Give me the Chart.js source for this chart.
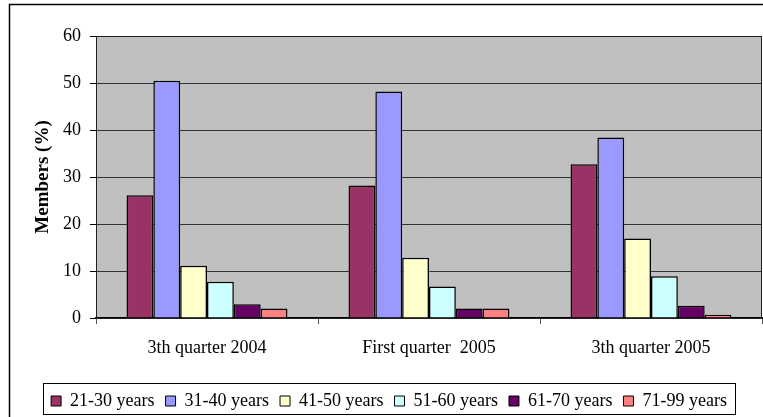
<!DOCTYPE html>
<html>
<head>
<meta charset="utf-8">
<script src="https://cdn.jsdelivr.net/npm/chart.js@4/dist/chart.umd.min.js"></script>
<style>
  html, body { margin: 0; padding: 0; background: #fff; }
  canvas { display: block; }
</style>
</head>
<body>
<canvas id="membersChart" width="763" height="417"></canvas>
<script>
// data
const quarters = ['3th quarter 2004', 'First quarter  2005', '3th quarter 2005'];
const ageGroups = ['21-30 years', '31-40 years', '41-50 years', '51-60 years', '61-70 years', '71-99 years'];
const age21to30 = [26.1, 28.2, 32.7];
const age31to40 = [50.5, 48.2, 38.4];
const age41to50 = [11.1, 12.8, 16.9];
const age51to60 = [7.7, 6.7, 8.9];
const age61to70 = [2.9, 2.0, 2.6];
const age71to99 = [2.0, 2.0, 0.7];
const yTicks = [0, 10, 20, 30, 40, 50, 60];

const seriesValues = [age21to30, age31to40, age41to50, age51to60, age61to70, age71to99];
const colors = ['#993366', '#9999FF', '#FFFFCC', '#CCFFFF', '#660066', '#FF8080'];

const serif = "'Liberation Serif', 'Times New Roman', serif";

// grey plot area, plot border, outer frame and legend box
const excelLook = {
    id: 'excelLook',
    beforeDraw(chart) {
        const ctx = chart.ctx;
        const a = chart.chartArea;
        ctx.save();
        ctx.fillStyle = '#fff';
        ctx.fillRect(0, 0, chart.width, chart.height);
        ctx.fillStyle = '#C0C0C0';
        ctx.fillRect(a.left, a.top, a.right - a.left, a.bottom - a.top);
        ctx.restore();
    },
    afterDraw(chart) {
        const ctx = chart.ctx;
        const a = chart.chartArea;
        ctx.save();
        ctx.strokeStyle = '#222';
        ctx.lineWidth = 1;
        ctx.strokeRect(a.left + 0.5, a.top + 0.5, a.right - a.left - 1, a.bottom - a.top);
        // outer frame (right and bottom sides fall outside the picture)
        ctx.strokeStyle = '#000';
        ctx.lineWidth = 1.5;
        ctx.strokeRect(9.5, 4.5, chart.width + 10, chart.height + 10);
        // legend box
        const boxes = chart.legend.legendHitBoxes;
        if (boxes && boxes.length) {
            const l = Math.min(...boxes.map(b => b.left)) - 8;
            const r = Math.max(...boxes.map(b => b.left + b.width)) + 8;
            const t = Math.min(...boxes.map(b => b.top)) - 9;
            const bt = Math.min(Math.max(...boxes.map(b => b.top + b.height)) + 5, chart.height - 3);
            ctx.lineWidth = 1;
            ctx.strokeStyle = '#000';
            ctx.strokeRect(Math.round(l) + 0.5, Math.round(t) + 0.5, Math.round(r - l), Math.round(bt - t));
        }
        ctx.restore();
    }
};

const ctx = document.getElementById('membersChart').getContext('2d');
new Chart(ctx, {
    type: 'bar',
    data: {
        labels: quarters,
        datasets: ageGroups.map((name, i) => ({
            label: name,
            data: seriesValues[i],
            backgroundColor: colors[i],
            borderColor: '#000',
            borderWidth: 1.5,
            barPercentage: 1,
            categoryPercentage: 0.725
        }))
    },
    options: {
        responsive: false,
        animation: false,
        devicePixelRatio: 1,
        layout: { padding: { top: 36, right: 1, left: 16, bottom: -3 } },
        plugins: {
            tooltip: { enabled: false },
            legend: {
                position: 'bottom',
                labels: {
                    font: { family: serif, size: 18 },
                    color: '#000',
                    boxWidth: 10,
                    boxHeight: 10,
                    padding: 11,
                    generateLabels(chart) {
                        return chart.data.datasets.map((ds, i) => ({
                            text: ds.label,
                            fillStyle: ds.backgroundColor,
                            strokeStyle: '#000',
                            lineWidth: 1,
                            datasetIndex: i,
                            hidden: false,
                            fontColor: '#000'
                        }));
                    }
                }
            }
        },
        scales: {
            x: {
                afterFit(scale) { scale.height = 63; },
                grid: {
                    offset: true,
                    drawOnChartArea: false,
                    tickLength: 6,
                    color: '#555'
                },
                border: { color: '#000', width: 2 },
                ticks: {
                    font: { family: serif, size: 18 },
                    color: '#000',
                    maxRotation: 0,
                    padding: 13
                }
            },
            y: {
                min: 0,
                max: 60,
                afterFit(scale) { scale.width = 80; },
                afterBuildTicks(scale) { scale.ticks = yTicks.map(v => ({ value: v })); },
                grid: { color: '#333', lineWidth: 1, tickLength: 6, tickColor: '#000' },
                border: { color: '#000', width: 1 },
                ticks: {
                    font: { family: serif, size: 18 },
                    color: '#000',
                    padding: 9
                },
                title: {
                    display: true,
                    text: 'Members (%)',
                    font: { family: serif, size: 19, weight: 'bold' },
                    color: '#000',
                    padding: { top: 16, bottom: 0 }
                }
            }
        }
    },
    plugins: [excelLook]
});
</script>
</body>
</html>
